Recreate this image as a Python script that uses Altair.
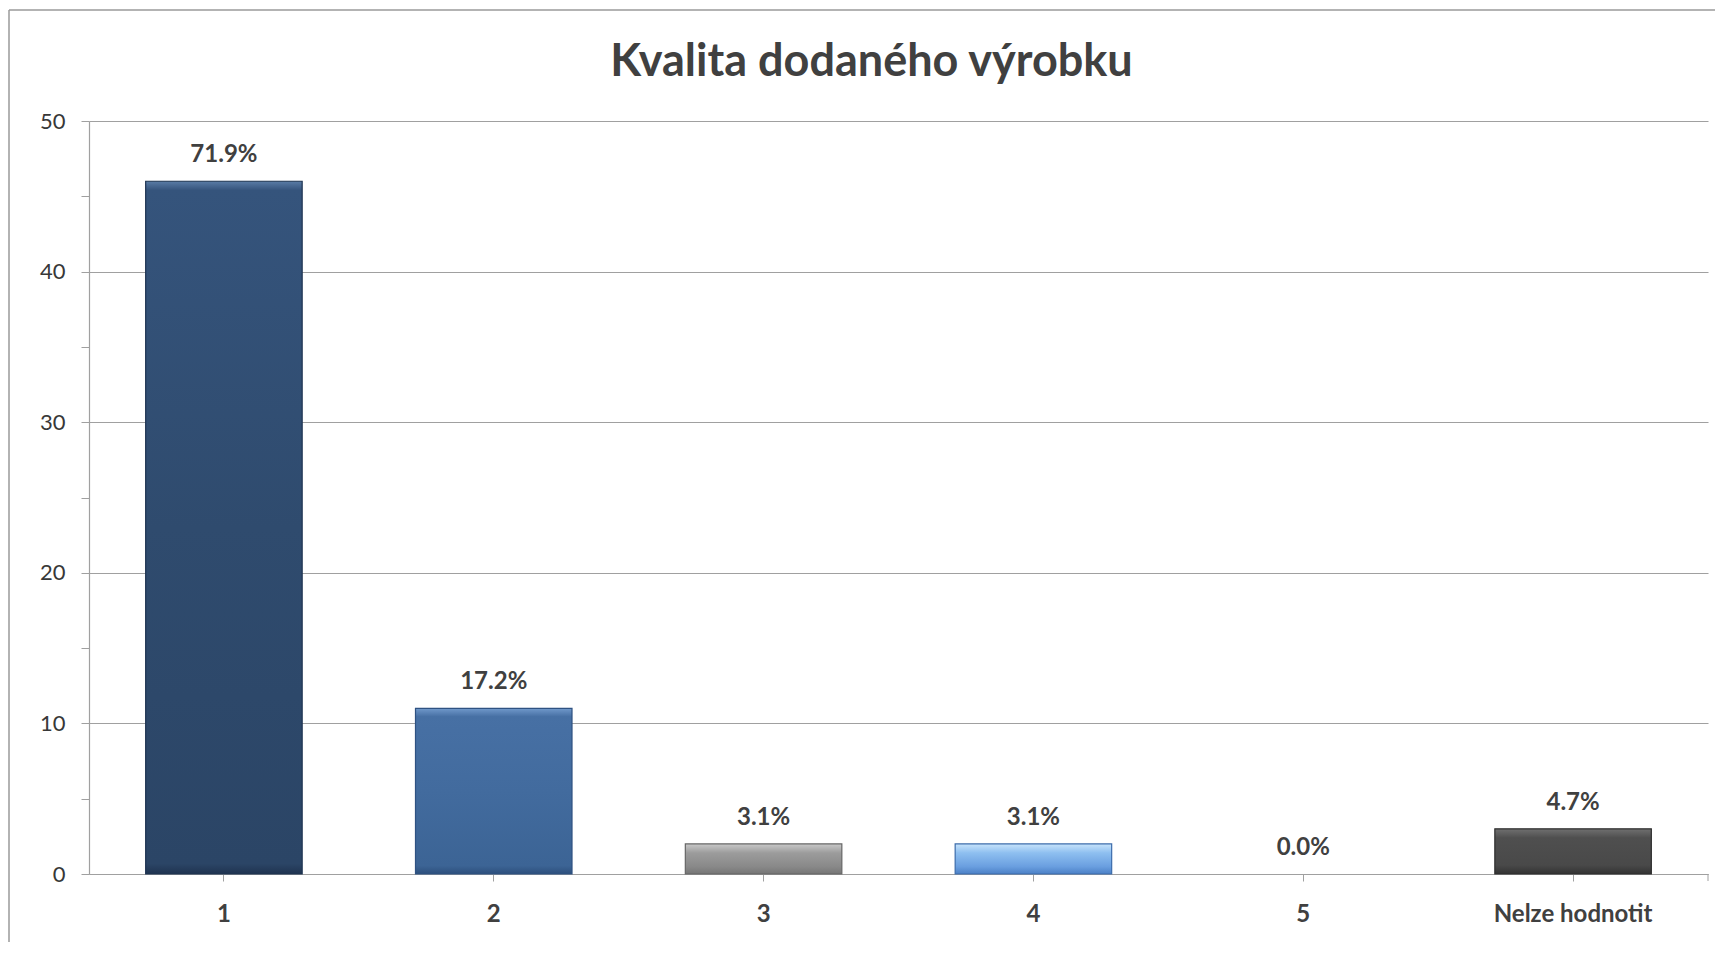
import altair as alt
import pandas as pd

# ---- data ----
categories = ["1", "2", "3", "4", "5", "Nelze hodnotit"]
counts = [46, 11, 2, 2, 0, 3]
pct_labels = ["71.9%", "17.2%", "3.1%", "3.1%", "0.0%", "4.7%"]
y_ticks = [0, 5, 10, 15, 20, 25, 30, 35, 40, 45, 50]

df = pd.DataFrame({"cat": categories, "count": counts, "label": pct_labels})

W, H = 1619, 753
FONT = "Lato"
TXT = "#404040"
GRID = "#a0a0a0"


def grad(stops):
    return alt.Gradient(
        gradient="linear", x1=0, x2=0, y1=0, y2=1,
        stops=[alt.GradientStop(color=c, offset=o) for o, c in stops],
    )


bar_styles = {
    "1": (grad([(0, "#5a7ca6"), (0.013, "#35547c"), (0.5, "#2f4b6e"), (0.985, "#2b4566"), (1, "#1f3350")]), "#1e3452"),
    "2": (grad([(0, "#7199cb"), (0.05, "#4770a4"), (0.5, "#426b9e"), (0.95, "#3c6495"), (1, "#2c4f7c")]), "#2f5282"),
    "3": (grad([(0, "#c9c9c9"), (0.3, "#9c9c9c"), (0.75, "#898989"), (1, "#767676")]), "#666666"),
    "4": (grad([(0, "#c8e4fb"), (0.3, "#8ebff0"), (0.75, "#6a9fe0"), (1, "#4b80c6")]), "#3c6cab"),
    "Nelze hodnotit": (grad([(0, "#707070"), (0.2, "#4f4f4f"), (0.8, "#494949"), (1, "#333333")]), "#2e2e2e"),
}

x_enc = alt.X(
    "cat:N",
    sort=categories,
    scale=alt.Scale(domain=categories, paddingInner=0.42, paddingOuter=0.21),
    axis=alt.Axis(
        title=None, labelAngle=0, labelFont=FONT, labelFontSize=24,
        labelFontWeight="bold", labelColor=TXT, labelPadding=21,
        tickSize=7, tickColor=GRID, domainColor=GRID, domainWidth=1.2,
        grid=False,
    ),
)
y_enc = alt.Y(
    "count:Q",
    scale=alt.Scale(domain=[0, 50], nice=False),
    axis=alt.Axis(
        title=None, values=y_ticks,
        labelExpr="datum.value % 10 === 0 ? datum.label : ''",
        labelFont=FONT, labelFontSize=22, labelColor="#383838", labelPadding=16,
        tickSize=8, tickColor=GRID, domainColor=GRID, domainWidth=1.2,
        grid=True, gridColor=GRID, gridWidth=1.2,
        gridOpacity={"condition": {"test": "datum.value % 10 === 0", "value": 1}, "value": 0},
    ),
)

base = alt.Chart(df)

layers = []
for cat, (fill, stroke) in bar_styles.items():
    layers.append(
        base.transform_filter(alt.datum.cat == cat)
        .mark_bar(fill=fill, stroke=stroke, strokeWidth=1.2)
        .encode(x=x_enc, y=y_enc)
    )

text = base.mark_text(
    dy=-26, baseline="middle", font=FONT, fontSize=24, fontWeight="bold", color=TXT
).encode(x=alt.X("cat:N", sort=categories), y="count:Q", text="label:N")

one = alt.Chart(pd.DataFrame({"a": [0]}))
frame_top = one.mark_rule(color="#9a9a9a", strokeWidth=1.5).encode(
    x=alt.value(-80), x2=alt.value(W + 30), y=alt.value(-111)
)
frame_left = one.mark_rule(color="#9a9a9a", strokeWidth=1.5).encode(
    x=alt.value(-80), y=alt.value(-111), y2=alt.value(H + 90)
)
end_tick = one.mark_rule(color=GRID, strokeWidth=1).encode(
    x=alt.value(W), y=alt.value(H), y2=alt.value(H + 7)
)

chart = (
    alt.layer(*layers, text, frame_top, frame_left, end_tick)
    .properties(
        width=W, height=H,
        title=alt.TitleParams(
            "Kvalita dodaného výrobku", font=FONT, fontSize=45, fontWeight="bold",
            color=TXT, anchor="middle", dx=-27, offset=-76,
        ),
        autosize=alt.AutoSizeParams(type="none"),
        padding={"left": 81, "top": 113, "right": 7, "bottom": 68},
        background="white",
    )
    .configure_view(stroke=None)
)

chart.save("out.html", embed_options={"renderer": "svg", "actions": False})
